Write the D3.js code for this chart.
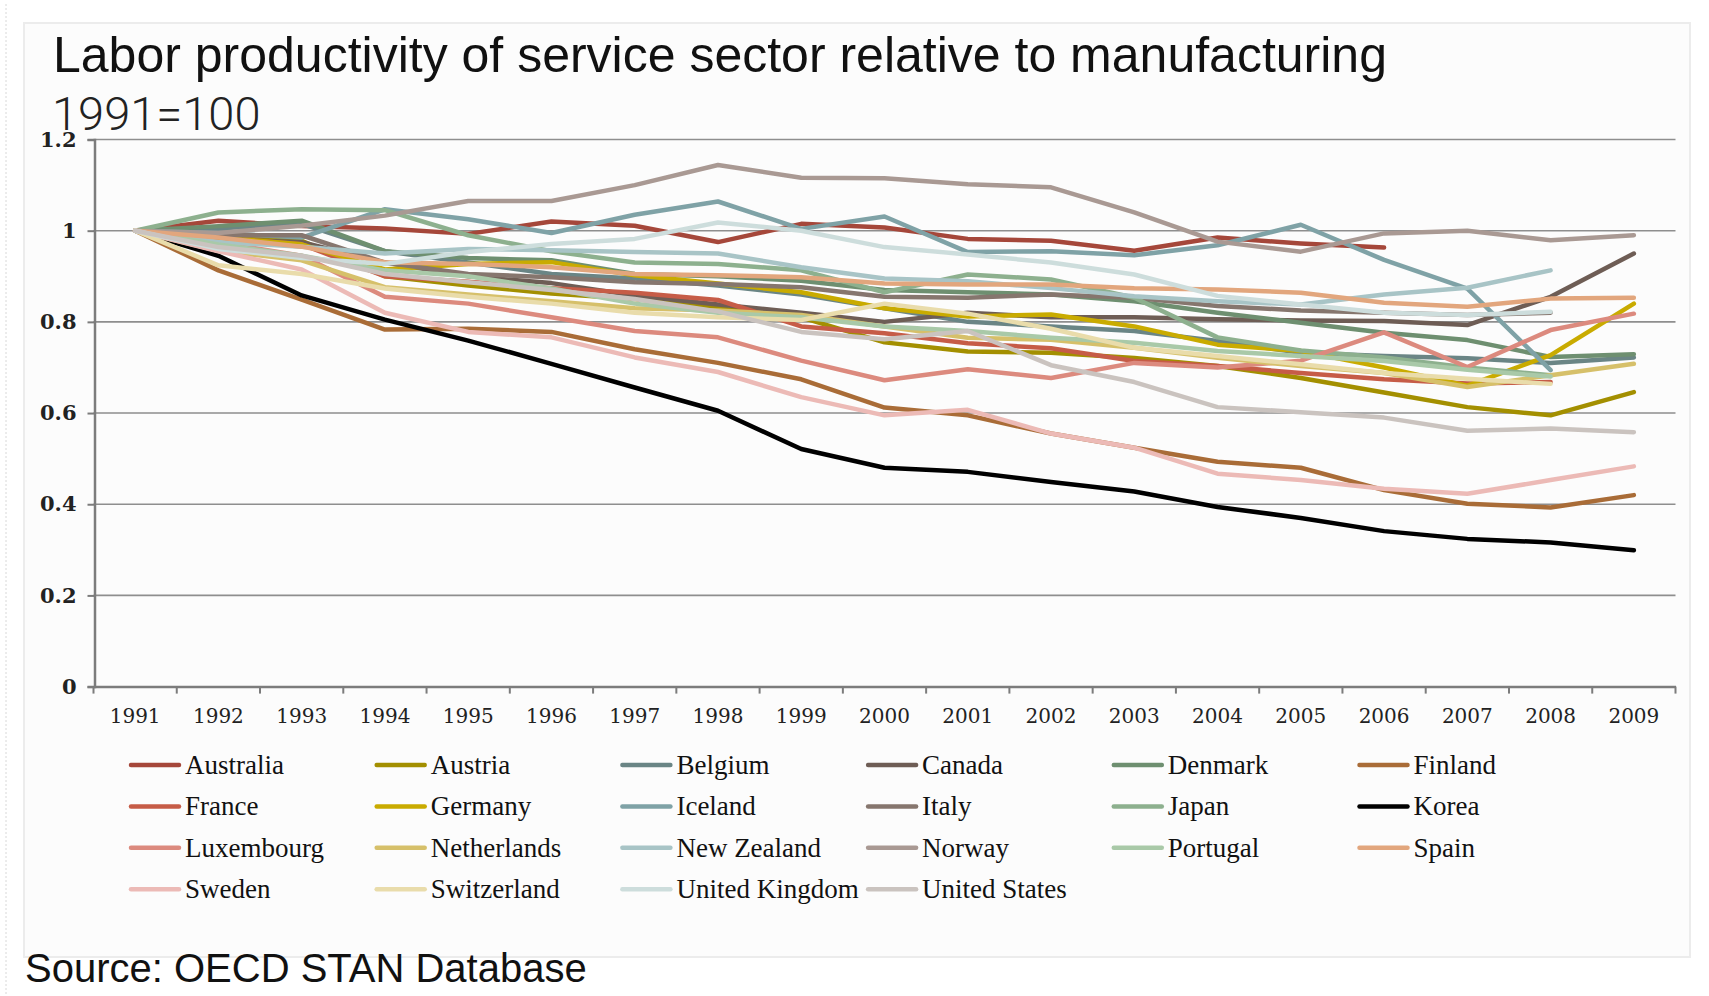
<!DOCTYPE html>
<html lang="en">
<head>
<meta charset="UTF-8">
<title>Labor productivity</title>
<script src="https://d3js.org/d3.v7.min.js"></script>
<style>
  * { margin: 0; padding: 0; }
  body { background: #ffffff; }
  svg { display: block; }
</style>
</head>
<body>
<script>
const W = 1709, H = 996;

// years on the x axis
const years = ['1991','1992','1993','1994','1995','1996','1997','1998','1999','2000',
               '2001','2002','2003','2004','2005','2006','2007','2008','2009'];
const yTicks = [0, 0.2, 0.4, 0.6, 0.8, 1, 1.2];

// series values (1991 = 1), null where the series stops
const australia   = [1, 1.022, 1.010, 1.005, 0.993, 1.020, 1.011, 0.975, 1.015, 1.007, 0.982, 0.978, 0.956, 0.985, 0.972, 0.963, null, null, null];
const austria     = [1, 0.985, 0.978, 0.900, 0.880, 0.862, 0.850, 0.830, 0.810, 0.755, 0.735, 0.732, 0.721, 0.703, 0.677, 0.645, 0.613, 0.595, 0.646];
const belgium     = [1, 1.005, 1.015, 0.955, 0.930, 0.905, 0.895, 0.880, 0.860, 0.830, 0.800, 0.790, 0.780, 0.758, 0.732, 0.725, 0.720, 0.710, 0.722];
const canada      = [1, 0.980, 0.975, 0.930, 0.900, 0.885, 0.858, 0.838, 0.820, 0.800, 0.820, 0.810, 0.810, 0.806, 0.803, 0.802, 0.793, 0.855, 0.950];
const denmark     = [1, 1.010, 1.022, 0.955, 0.940, 0.935, 0.905, 0.900, 0.890, 0.870, 0.865, 0.860, 0.845, 0.820, 0.798, 0.776, 0.760, 0.723, 0.729];
const finland     = [1, 0.913, 0.849, 0.783, 0.785, 0.778, 0.740, 0.710, 0.674, 0.612, 0.595, 0.555, 0.524, 0.493, 0.480, 0.431, 0.401, 0.393, 0.420];
const france      = [1, 0.985, 0.970, 0.900, 0.888, 0.874, 0.864, 0.848, 0.790, 0.775, 0.753, 0.742, 0.714, 0.703, 0.688, 0.674, 0.665, 0.668, null];
const germany     = [1, 0.985, 0.970, 0.915, 0.927, 0.931, 0.902, 0.884, 0.865, 0.830, 0.812, 0.816, 0.790, 0.750, 0.736, 0.700, 0.660, 0.727, 0.840];
const iceland     = [1, 0.995, 0.985, 1.047, 1.025, 0.995, 1.035, 1.064, 1.004, 1.031, 0.953, 0.955, 0.946, 0.968, 1.013, 0.936, 0.873, 0.694, null];
const italy       = [1, 0.990, 0.990, 0.930, 0.905, 0.898, 0.887, 0.883, 0.876, 0.855, 0.853, 0.860, 0.853, 0.835, 0.825, 0.820, 0.815, 0.820, null];
const japan       = [1, 1.040, 1.047, 1.045, 0.990, 0.955, 0.930, 0.927, 0.913, 0.865, 0.904, 0.893, 0.853, 0.766, 0.737, 0.722, 0.700, 0.683, null];
const korea       = [1, 0.945, 0.858, 0.805, 0.759, 0.708, 0.656, 0.605, 0.521, 0.480, 0.471, 0.449, 0.428, 0.394, 0.370, 0.341, 0.324, 0.316, 0.299];
const luxembourg  = [1, 0.975, 0.945, 0.855, 0.840, 0.810, 0.780, 0.766, 0.715, 0.672, 0.696, 0.677, 0.710, 0.700, 0.715, 0.777, 0.701, 0.782, 0.818];
const netherlands = [1, 0.956, 0.935, 0.876, 0.860, 0.845, 0.830, 0.825, 0.815, 0.790, 0.765, 0.761, 0.743, 0.721, 0.703, 0.688, 0.657, 0.683, 0.708];
const newZealand  = [1, 0.975, 0.965, 0.950, 0.960, 0.957, 0.953, 0.950, 0.920, 0.895, 0.889, 0.874, 0.856, 0.845, 0.838, 0.860, 0.875, 0.913, null];
const norway      = [1, 0.995, 1.011, 1.033, 1.065, 1.065, 1.100, 1.144, 1.116, 1.115, 1.102, 1.095, 1.040, 0.976, 0.954, 0.994, 1.000, 0.979, 0.990];
const portugal    = [1, 0.970, 0.945, 0.913, 0.900, 0.873, 0.840, 0.820, 0.810, 0.790, 0.780, 0.765, 0.754, 0.736, 0.725, 0.714, 0.695, 0.680, null];
const spain       = [1, 0.985, 0.965, 0.931, 0.927, 0.920, 0.905, 0.902, 0.898, 0.884, 0.882, 0.882, 0.874, 0.871, 0.864, 0.842, 0.833, 0.851, 0.853];
const sweden      = [1, 0.955, 0.915, 0.820, 0.778, 0.766, 0.722, 0.690, 0.635, 0.595, 0.607, 0.555, 0.524, 0.467, 0.453, 0.434, 0.423, 0.453, 0.483];
const switzerland = [1, 0.924, 0.905, 0.873, 0.855, 0.840, 0.820, 0.810, 0.804, 0.840, 0.818, 0.785, 0.743, 0.725, 0.707, 0.688, 0.675, 0.664, null];
const unitedKingdom = [1, 0.960, 0.940, 0.927, 0.953, 0.971, 0.982, 1.018, 1.000, 0.964, 0.948, 0.930, 0.904, 0.857, 0.838, 0.820, 0.815, 0.822, null];
const unitedStates  = [1, 0.964, 0.945, 0.905, 0.887, 0.870, 0.850, 0.823, 0.778, 0.762, 0.780, 0.705, 0.668, 0.613, 0.602, 0.590, 0.561, 0.566, 0.558];

const countries = ['Australia','Austria','Belgium','Canada','Denmark','Finland',
                   'France','Germany','Iceland','Italy','Japan','Korea',
                   'Luxembourg','Netherlands','New Zealand','Norway','Portugal','Spain',
                   'Sweden','Switzerland','United Kingdom','United States'];
const seriesValues = [australia, austria, belgium, canada, denmark, finland,
                      france, germany, iceland, italy, japan, korea,
                      luxembourg, netherlands, newZealand, norway, portugal, spain,
                      sweden, switzerland, unitedKingdom, unitedStates];

const colors = ['#a5473a','#a38f00','#6a8585','#6e5d55','#6e8f70','#a96c37',
                '#c65c47','#c9ab00','#7fa2a6','#86766e','#8db08e','#000000',
                '#dc8a7e','#d6c06a','#a8c4c6','#a99993','#a9c9a8','#e2a67d',
                '#ecbab6','#e9dcab','#cddddc','#cac3bf'];

const svg = d3.select('body').append('svg')
    .attr('width', W)
    .attr('height', H);

// faint page frame
svg.append('line')
    .attr('x1', 6).attr('x2', 6).attr('y1', 4).attr('y2', H)
    .attr('stroke', '#d8d8d8').attr('stroke-dasharray', '2,2');

svg.append('rect')
    .attr('x', 24).attr('y', 23)
    .attr('width', 1666).attr('height', 934)
    .attr('fill', '#fcfcfc')
    .attr('stroke', '#ececec')
    .attr('stroke-width', 2);

svg.append('text')
    .attr('x', 53).attr('y', 72)
    .attr('font-family', 'Liberation Sans, Arial, sans-serif')
    .attr('font-size', 50)
    .attr('fill', '#111')
    .text('Labor productivity of service sector relative to manufacturing');

svg.append('text')
    .attr('x', 52).attr('y', 130)
    .attr('font-family', 'Roboto, sans-serif')
    .attr('font-weight', 300)
    .attr('font-size', 47)
    .attr('fill', '#222')
    .text('1991=100');

// scales
const x = d3.scaleBand()
    .domain(years)
    .range([93.5, 1675.5])
    .padding(0);
const cx = d => x(d) + x.bandwidth() / 2;

const y = d3.scaleLinear()
    .domain([0, 1.2])
    .range([686.6, 139.5]);

// gridlines
svg.append('g')
    .selectAll('line')
    .data(yTicks.filter(d => d > 0))
    .join('line')
    .attr('x1', 93.5).attr('x2', 1675.5)
    .attr('y1', d => y(d)).attr('y2', d => y(d))
    .attr('stroke', '#8e8e8e')
    .attr('stroke-width', 1.6);

// y axis
const yAxis = svg.append('g')
    .attr('transform', 'translate(94.5,0)')
    .call(d3.axisLeft(y).tickValues(yTicks).tickSize(7).tickPadding(11)
        .tickFormat(d => String(+d.toFixed(1))));
yAxis.select('.domain').attr('stroke', '#7c7c7c').attr('stroke-width', 2.5);
yAxis.selectAll('.tick line').attr('stroke', '#7c7c7c').attr('stroke-width', 2);
yAxis.selectAll('.tick text')
    .attr('font-family', 'DejaVu Serif, serif')
    .attr('font-weight', 'bold')
    .attr('font-size', 21)
    .attr('fill', '#222');

// x axis: labels centred, ticks on band edges
const xAxis = svg.append('g')
    .attr('transform', 'translate(0,' + y(0) + ')')
    .call(d3.axisBottom(x).tickSize(0).tickPadding(22));
xAxis.select('.domain').attr('stroke', '#7c7c7c').attr('stroke-width', 2.5);
xAxis.selectAll('.tick text')
    .attr('font-family', 'DejaVu Serif, serif')
    .attr('font-size', 20)
    .attr('fill', '#222');
xAxis.selectAll('.edge')
    .data(years.concat(['end']))
    .join('line')
    .attr('class', 'edge')
    .attr('x1', (d, i) => 93.5 + i * x.step())
    .attr('x2', (d, i) => 93.5 + i * x.step())
    .attr('y1', 0).attr('y2', 7)
    .attr('stroke', '#7c7c7c')
    .attr('stroke-width', 2);

// lines
const line = d3.line()
    .defined(d => d.v != null)
    .x(d => cx(d.year))
    .y(d => y(d.v));

svg.append('g')
    .selectAll('path')
    .data(seriesValues)
    .join('path')
    .attr('d', vals => line(vals.map((v, i) => ({ year: years[i], v: v }))))
    .attr('fill', 'none')
    .attr('stroke', (d, i) => colors[i])
    .attr('stroke-width', 4.5)
    .attr('stroke-linejoin', 'round')
    .attr('stroke-linecap', 'round');

// legend
const legend = svg.append('g')
    .selectAll('g')
    .data(countries)
    .join('g')
    .attr('transform', (d, i) => 'translate(' + (131 + (i % 6) * 245.7) + ',' + (765 + Math.floor(i / 6) * 41.4) + ')');

legend.append('line')
    .attr('x1', 0).attr('x2', 48)
    .attr('y1', 0).attr('y2', 0)
    .attr('stroke', (d, i) => colors[i])
    .attr('stroke-width', 4.5)
    .attr('stroke-linecap', 'round');

legend.append('text')
    .attr('x', 54).attr('y', 9)
    .attr('font-family', 'Liberation Serif, serif')
    .attr('font-size', 27)
    .attr('fill', '#111')
    .text(d => d);

svg.append('text')
    .attr('x', 25).attr('y', 982)
    .attr('font-family', 'Liberation Sans, Arial, sans-serif')
    .attr('font-size', 40)
    .attr('fill', '#111')
    .text('Source: OECD STAN Database');
</script>
</body>
</html>
